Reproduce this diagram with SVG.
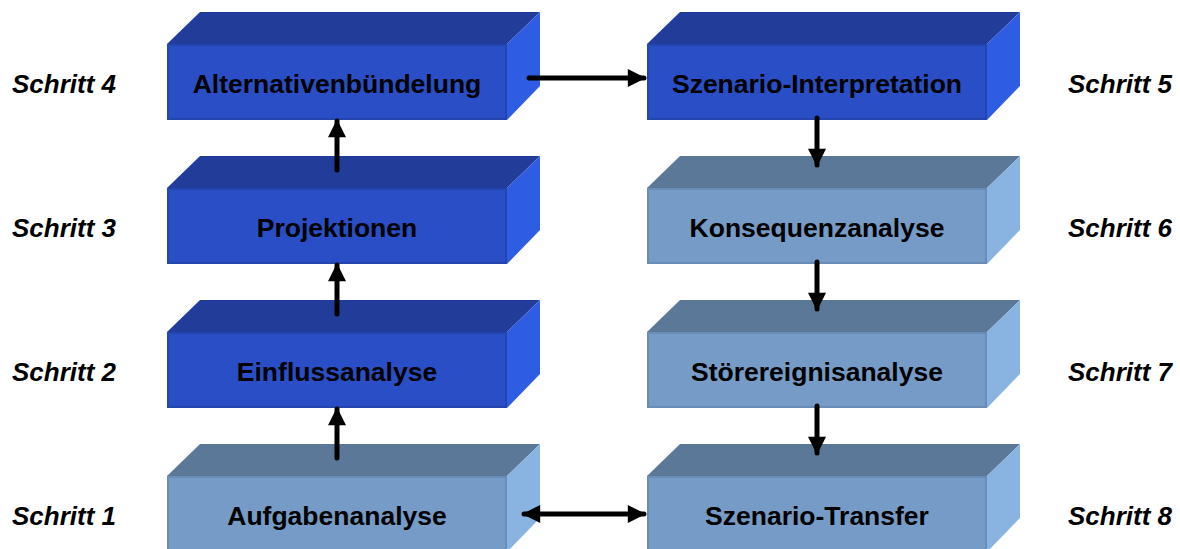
<svg xmlns="http://www.w3.org/2000/svg" width="1180" height="549" viewBox="0 0 1180 549">
  <style>
    .lbl { font-family: "Liberation Sans", Arial, sans-serif; font-weight: bold; font-size: 26.5px; fill: #000; text-anchor: middle; }
    .step { font-family: "Liberation Sans", Arial, sans-serif; font-weight: bold; font-style: italic; font-size: 26px; fill: #000; }
    .d { --front: #2A4EC6; --edge: #2444AE; --top: #213D99; --side: #2E5CE2; }
    .l { --front: #759BC6; --edge: #6A8DB8; --top: #5B7898; --side: #89B4E2; }
    .front { fill: var(--front); stroke: var(--edge); stroke-width: 2; }
    .top { fill: var(--top); }
    .side { fill: var(--side); }
    .conn { stroke: #000; stroke-width: 5; stroke-linecap: round; fill: none; }
  </style>
  <defs>
    <!-- 3D block: front face 340x76, depth offset 33 -->
    <g id="blk">
      <polygon class="top" points="0,0 33,-32 373,-32 340,0"/>
      <polygon class="side" points="340,0 373,-32 373,42 340,76"/>
      <rect class="front" x="1" y="1" width="338" height="74"/>
    </g>
    <marker id="ah" viewBox="0 0 10 10" refX="9" refY="5" markerWidth="3.8" markerHeight="3.6" orient="auto-start-reverse" markerUnits="strokeWidth">
      <path d="M0,0 L10,5 L0,10 z" fill="#000"/>
    </marker>
  </defs>

  <!-- left column -->
  <g id="n4" class="d"><use href="#blk" x="167" y="44"/><text class="lbl" x="337" y="93">Alternativenbündelung</text></g>
  <g id="n3" class="d"><use href="#blk" x="167" y="188"/><text class="lbl" x="337" y="237">Projektionen</text></g>
  <g id="n2" class="d"><use href="#blk" x="167" y="332"/><text class="lbl" x="337" y="381">Einflussanalyse</text></g>
  <g id="n1" class="l"><use href="#blk" x="167" y="476"/><text class="lbl" x="337" y="525">Aufgabenanalyse</text></g>

  <!-- right column -->
  <g id="n5" class="d"><use href="#blk" x="647" y="44"/><text class="lbl" x="817" y="93">Szenario-Interpretation</text></g>
  <g id="n6" class="l"><use href="#blk" x="647" y="188"/><text class="lbl" x="817" y="237">Konsequenzanalyse</text></g>
  <g id="n7" class="l"><use href="#blk" x="647" y="332"/><text class="lbl" x="817" y="381">Störereignisanalyse</text></g>
  <g id="n8" class="l"><use href="#blk" x="647" y="476"/><text class="lbl" x="817" y="525">Szenario-Transfer</text></g>

  <!-- step captions -->
  <g id="steps">
    <text class="step" x="12" y="93">Schritt 4</text>
    <text class="step" x="12" y="237">Schritt 3</text>
    <text class="step" x="12" y="381">Schritt 2</text>
    <text class="step" x="12" y="525">Schritt 1</text>
    <text class="step" x="1068" y="93">Schritt 5</text>
    <text class="step" x="1068" y="237">Schritt 6</text>
    <text class="step" x="1068" y="381">Schritt 7</text>
    <text class="step" x="1068" y="525">Schritt 8</text>
  </g>

  <!-- connectors -->
  <g id="connectors">
    <line class="conn" x1="337" y1="170" x2="337" y2="121" marker-end="url(#ah)"/>
    <line class="conn" x1="337" y1="314" x2="337" y2="265" marker-end="url(#ah)"/>
    <line class="conn" x1="337" y1="458" x2="337" y2="409" marker-end="url(#ah)"/>
    <line class="conn" x1="529" y1="78" x2="644" y2="78" marker-end="url(#ah)"/>
    <line class="conn" x1="817" y1="118" x2="817" y2="165" marker-end="url(#ah)"/>
    <line class="conn" x1="817" y1="262" x2="817" y2="309" marker-end="url(#ah)"/>
    <line class="conn" x1="817" y1="406" x2="817" y2="453" marker-end="url(#ah)"/>
    <line class="conn" x1="524" y1="514" x2="644" y2="514" marker-start="url(#ah)" marker-end="url(#ah)"/>
  </g>
</svg>
